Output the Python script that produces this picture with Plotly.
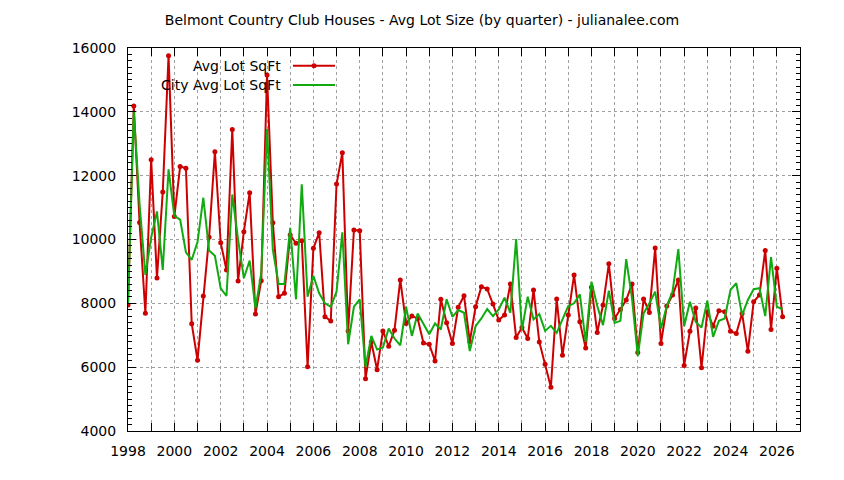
import plotly.graph_objects as go

start_year = 1998
avg_lot_sqft = [
    7950, 14180, 10530, 7690, 12500, 8790, 11490, 15760, 10720, 12290,
    12230, 7360, 6220, 8230, 10070, 12750, 9900, 9045, 13450, 8700,
    10245, 11467, 7666, 8710, 15154, 10527, 8209, 8314, 10141, 9880,
    9963, 6015, 9724, 10214, 7582, 7447, 11739, 12720, 7130, 10300,
    10277, 5640, 6790, 5920, 7137, 6655, 7159, 8734, 7370, 7600,
    7527, 6760, 6718, 6192, 8126, 7389, 6740, 7874, 8239, 6800,
    7893, 8523, 8450, 7978, 7474, 7632, 8608, 6929, 7244, 6897,
    8419, 6791, 6088, 5373, 8135, 6371, 7632, 8891, 7420, 6600,
    8504, 7086, 7946, 9238, 7527, 7810, 8104, 8608, 6456, 8135,
    7716, 9732, 6740, 7915, 8261, 8734, 6056, 7128, 7850, 5984,
    7736, 7285, 7767, 7736, 7128, 7055, 7685, 6497, 8050, 8261,
    9657, 7181, 9102, 7578,
]
city_avg_lot_sqft = [
    8000, 14000, 11100, 8891, 10063, 10880, 9049, 12200, 10740, 10624,
    9600, 9364, 9920, 11308, 9657, 9490, 8472, 8230, 11411, 9994,
    8787, 9342, 7842, 8945, 13459, 9679, 8608, 8608, 10362, 8126,
    11726, 8209, 8860, 8315, 8000, 7893, 8366, 10224, 6718, 7893,
    8126, 6003, 6980, 6551, 6614, 7212, 6897, 6686, 7893, 6980,
    7685, 7348, 7033, 7370, 7181, 8126, 7578, 7789, 7704, 6507,
    7285, 7527, 7820, 7600, 7810, 8176, 7704, 10016, 7159, 8209,
    7496, 7663, 7137, 7295, 7074, 7496, 7915, 8000, 8283, 6791,
    8680, 7915, 7317, 8397, 7389, 7452, 9386, 8157, 6350, 7685,
    8000, 8366, 7212, 7915, 8366, 9701, 7285, 8050, 7420, 7244,
    8083, 6949, 7452, 7527, 8419, 8630, 7632, 8104, 8441, 8472,
    7600, 9449, 7893, 7810,
]
year_ticks = list(range(1998, 2027, 2))
value_ticks = list(range(4000, 16001, 2000))

quarters = [start_year + i / 4 for i in range(len(avg_lot_sqft))]

RED = "#cc0000"
GREEN = "#11aa11"
FONT = "DejaVu Sans"

fig = go.Figure()
fig.add_trace(go.Scatter(
    x=quarters, y=avg_lot_sqft, mode="lines+markers", name="Avg Lot SqFt",
    line=dict(color=RED, width=2), marker=dict(color=RED, size=5),
    showlegend=False,
))
fig.add_trace(go.Scatter(
    x=quarters, y=city_avg_lot_sqft, mode="lines", name="City Avg Lot SqFt",
    line=dict(color=GREEN, width=2), showlegend=False,
))

# gnuplot-style key: right-aligned text with sample on the right
key_rows = [("Avg Lot SqFt", RED, True, 0.9538), ("City Avg Lot SqFt", GREEN, False, 0.9034)]
for label, col, has_marker, yk in key_rows:
    fig.add_annotation(x=0.2307, y=yk, xref="paper", yref="paper", text=label,
                       showarrow=False, xanchor="right", yanchor="middle",
                       font=dict(family=FONT, size=14, color="black"))
    fig.add_shape(type="line", xref="paper", yref="paper", x0=0.2455, x1=0.3080,
                  y0=yk, y1=yk, line=dict(color=col, width=2))
    if has_marker:
        fig.add_shape(type="circle", xref="paper", yref="paper",
                      xsizemode="pixel", ysizemode="pixel",
                      xanchor=0.2768, yanchor=yk, x0=-2.5, x1=2.5, y0=-2.5, y1=2.5,
                      fillcolor=col, line=dict(color=col, width=0))

# the page body adds an 8px offset, so margins are reduced by 8px
fig.update_layout(
    width=844, height=480,
    margin=dict(l=120, r=52, t=40, b=57),
    paper_bgcolor="white", plot_bgcolor="white",
    title=dict(text="Belmont Country Club Houses - Avg Lot Size (by quarter) - julianalee.com",
               x=(422 - 8) / 844, xref="container", xanchor="center",
               y=1 - 12 / 480, yanchor="middle",
               font=dict(family=FONT, size=14, color="black")),
    font=dict(family=FONT, size=14, color="black"),
)
fig.update_xaxes(
    range=[1998, 2027], tickmode="array", tickvals=year_ticks,
    ticktext=[str(t) for t in year_ticks],
    ticks="inside", ticklen=8, tickcolor="black", tickwidth=1,
    showline=True, linecolor="black", linewidth=1, mirror="ticks",
    showgrid=True, gridcolor="#a0a0a0", griddash="dot", gridwidth=1,
    minor=dict(dtick=1, tick0=1998, ticks="inside", ticklen=8, tickcolor="black",
               showgrid=True, gridcolor="#a0a0a0", griddash="dot", gridwidth=1),
    zeroline=False, ticklabelstandoff=7,
    tickfont=dict(family=FONT, size=14, color="black"),
)
fig.update_yaxes(
    range=[4000, 16000], tickmode="array", tickvals=value_ticks,
    ticktext=[str(t) for t in value_ticks],
    ticks="inside", ticklen=8, tickcolor="black", tickwidth=1,
    showline=True, linecolor="black", linewidth=1, mirror="ticks",
    showgrid=True, gridcolor="#a0a0a0", griddash="dot", gridwidth=1,
    minor=dict(dtick=200, tick0=4000, ticks="inside", ticklen=4, tickcolor="black",
               showgrid=False),
    zeroline=False, ticklabelstandoff=8,
    tickfont=dict(family=FONT, size=14, color="black"),
)

fig.write_html("out.html")
